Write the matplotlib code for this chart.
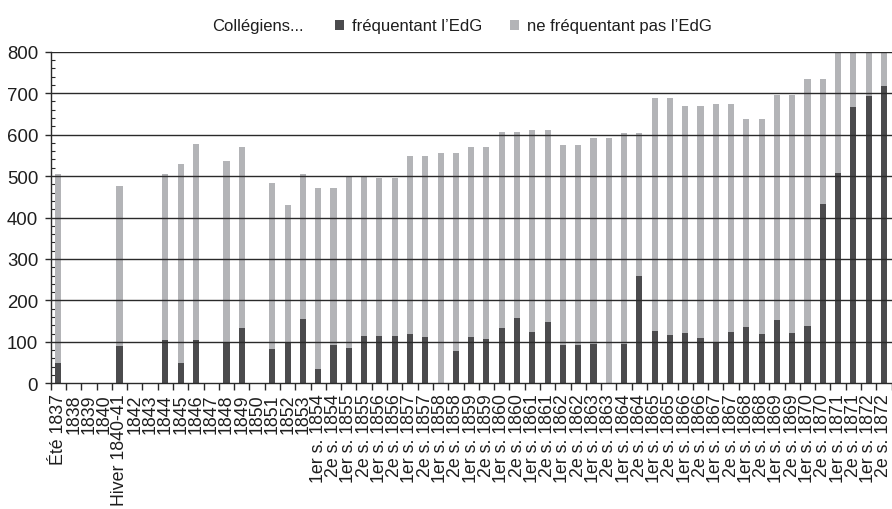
import matplotlib
matplotlib.use("Agg")
import matplotlib.pyplot as plt
from matplotlib.patches import Patch
from matplotlib.ticker import MultipleLocator, FixedLocator
import numpy as np

plt.rcParams['font.family'] = ['Liberation Sans', 'DejaVu Sans']

categories = [
    "Été 1837", "1838", "1839", "1840", "Hiver 1840-41", "1842", "1843",
    "1844", "1845", "1846", "1847", "1848", "1849", "1850", "1851", "1852", "1853",
    "1er s. 1854", "2e s. 1854", "1er s. 1855", "2e s. 1855",
    "1er s. 1856", "2e s. 1856", "1er s. 1857", "2e s. 1857",
    "1er s. 1858", "2e s. 1858", "1er s. 1859", "2e s. 1859",
    "1er s. 1860", "2e s. 1860", "1er s. 1861", "2e s. 1861",
    "1er s. 1862", "2e s. 1862", "1er s. 1863", "2e s. 1863",
    "1er s. 1864", "2e s. 1864", "1er s. 1865", "2e s. 1865",
    "1er s. 1866", "2e s. 1866", "1er s. 1867", "2e s. 1867",
    "1er s. 1868", "2e s. 1868", "1er s. 1869", "2e s. 1869",
    "1er s. 1870", "2e s. 1870", "1er s. 1871", "2e s. 1871",
    "1er s. 1872", "2e s. 1872",
]

frequentant = [
    48, 0, 0, 0, 91, 0, 0,
    105, 50, 105, 0, 100, 134, 0, 82, 98, 154,
    34, 93, 86, 113,
    113, 113, 119, 111,
    0, 78, 112, 108,
    134, 158, 124, 149,
    93, 92, 95, 0,
    95, 260, 127, 117,
    121, 109, 100, 124,
    136, 118, 153, 122,
    138, 432, 508, 667,
    693, 718,
]

non_frequentant = [
    457, 0, 0, 0, 384, 0, 0,
    399, 479, 473, 0, 437, 437, 0, 401, 332, 352,
    438, 379, 415, 388,
    382, 382, 429, 437,
    556, 478, 457, 461,
    473, 449, 486, 461,
    482, 483, 497, 592,
    509, 344, 561, 571,
    547, 559, 575, 551,
    501, 519, 543, 574,
    597, 303, 322, 163,
    157, 132,
]

series_labels = ["fréquentant l\u2019EdG", "ne fréquentant pas l\u2019EdG"]
legend_title = "Collégiens..."

dark = "#4b4b4d"
light = "#b3b4b7"
txt = "#1e1e1e"

W, H = 892, 510
fig = plt.figure(figsize=(W / 100, H / 100), dpi=100)
ax = fig.add_axes([50.7 / W, 1 - 384.3 / H, (891.6 - 50.7) / W, (384.3 - 52.7) / H])

x = np.arange(len(categories))
ax.bar(x, frequentant, width=0.4, color=dark, linewidth=0, zorder=2)
ax.bar(x, non_frequentant, width=0.4, bottom=frequentant, color=light, linewidth=0, zorder=2)

ax.set_xlim(-0.5, len(categories) - 0.5)
ax.set_ylim(0, 800)

# gridlines on top of bars
for v in range(100, 801, 100):
    ax.axhline(v, color="#2a2a2a", linewidth=1.0, zorder=3)

for s in ["top", "right"]:
    ax.spines[s].set_visible(False)
for s in ["left", "bottom"]:
    ax.spines[s].set_color("#2a2a2a")
    ax.spines[s].set_linewidth(1.0)
    ax.spines[s].set_zorder(4)

ax.yaxis.set_major_locator(MultipleLocator(100))
ax.yaxis.set_minor_locator(MultipleLocator(20))
ax.tick_params(axis="y", which="major", direction="out", length=4, width=1.0,
               color="#2a2a2a", labelsize=13.4, labelcolor=txt, pad=5)
ax.tick_params(axis="y", which="minor", direction="in", length=3, width=0.8, color="#2a2a2a")

ax.set_xticks(x)
ax.set_xticklabels(categories, rotation=90, ha="center", va="top")
ax.xaxis.set_minor_locator(FixedLocator(np.arange(-0.5, len(categories), 1.0)))
ax.tick_params(axis="x", which="major", length=0, labelsize=12.8, labelcolor=txt, pad=7)
ax.tick_params(axis="x", which="minor", direction="out", length=5, width=1.0, color="#2a2a2a")

fig.text(212 / W, 1 - 27 / H, legend_title, fontsize=12, color=txt, ha="left", va="center")
handles = [Patch(facecolor=dark, edgecolor="none"), Patch(facecolor=light, edgecolor="none")]
fig.legend(handles, series_labels, loc="center left", bbox_to_anchor=(335 / W, 1 - 27 / H),
           ncol=2, frameon=False, fontsize=12, handlelength=0.55, handleheight=0.55,
           handletextpad=0.48, columnspacing=1.65, borderpad=0, borderaxespad=0,
           labelcolor=txt)

fig.savefig("out.png", dpi=100)
